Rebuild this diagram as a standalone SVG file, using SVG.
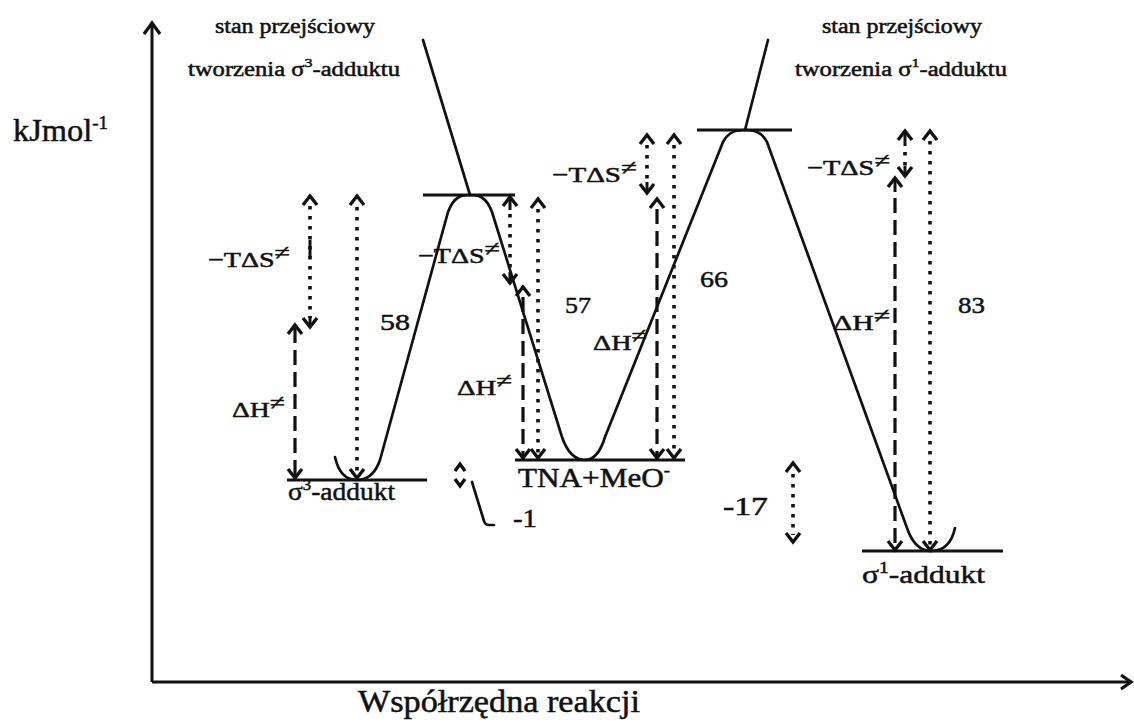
<svg xmlns="http://www.w3.org/2000/svg" xmlns:xlink="http://www.w3.org/1999/xlink" width="1134" height="723" viewBox="0 0 1134 723">
<style>
.ln{stroke:#111;stroke-width:2.7;fill:none;stroke-linecap:round;stroke-linejoin:round}
.ax{stroke:#111;stroke-width:3;fill:none}
.dot{stroke:#111;stroke-width:3.6;stroke-dasharray:3.5 6.5;fill:none}
.dash{stroke:#111;stroke-width:3.2;stroke-dasharray:15 7;fill:none}
.hd{stroke:#111;stroke-width:3.3;fill:none;stroke-linejoin:miter}
.st{stroke:#111;stroke-width:3;fill:none}
.t{font-family:"Liberation Serif","Times New Roman",serif;fill:#111;stroke:#111;stroke-width:0.5}
</style>
<defs>
<path id="up" d="M-7,9 L0,0 L7,9"/>
<path id="dn" d="M-7,-9 L0,0 L7,-9"/>
<path id="ups" d="M-5,7 L0,0 L5,7"/>
<path id="dns" d="M-5,-7 L0,0 L5,-7"/>
</defs>
<rect width="1134" height="723" fill="#fff"/>

<g id="axes">
<line class="ax" x1="152" y1="24" x2="152" y2="682"/>
<line class="ax" x1="152" y1="682" x2="1129" y2="682"/>
<path class="hd" d="M144,34 L152,23 L160,34"/>
<path class="hd" d="M1121,675 L1131,682 L1121,689"/>
<text class="t" x="13" y="141" font-size="31" textLength="95" lengthAdjust="spacingAndGlyphs">kJmol<tspan font-size="18" dy="-12">-1</tspan></text>
<text class="t" x="358" y="712" font-size="31" textLength="282" lengthAdjust="spacingAndGlyphs">Współrzędna reakcji</text>
</g>

<g id="profile">
<path class="ln" d="M335,457 Q340,480 357,480 Q373,480 380,460 L448,212 C454,196 462,195 470,195 C478,195 486,196 492,212 L562,437 Q570,460 585,460 Q598,460 605,437 L723,142 C729,131 737,130 745,130 C753,130 761,131 767,142 L907,528 Q915,551 931,551 Q950,551 955,528"/>
</g>

<g id="levels">
<line class="st" x1="287" y1="480" x2="427" y2="480"/>
<line class="st" x1="423" y1="195" x2="515" y2="195"/>
<line class="st" x1="515" y1="460" x2="685" y2="460"/>
<line class="st" x1="697" y1="130" x2="792" y2="130"/>
<line class="st" x1="862" y1="551" x2="1003" y2="551"/>
</g>

<g id="ts-pointers">
<line class="ln" x1="423" y1="40" x2="470" y2="195"/>
<line class="ln" x1="768" y1="40" x2="745" y2="130"/>
</g>

<g id="ts1-label">
<text class="t" x="215" y="33" font-size="20" textLength="160" lengthAdjust="spacingAndGlyphs">stan przejściowy</text>
<text class="t" x="188" y="76" font-size="20" textLength="212" lengthAdjust="spacingAndGlyphs">tworzenia σ<tspan font-size="13" dy="-9">3</tspan><tspan dy="9">-adduktu</tspan></text>
</g>
<g id="ts2-label">
<text class="t" x="822" y="33" font-size="20" textLength="160" lengthAdjust="spacingAndGlyphs">stan przejściowy</text>
<text class="t" x="795" y="76" font-size="20" textLength="212" lengthAdjust="spacingAndGlyphs">tworzenia σ<tspan font-size="13" dy="-9">1</tspan><tspan dy="9">-adduktu</tspan></text>
</g>

<g id="connectors">
<!-- sigma3 -> TS1 -->
<line class="dash" x1="295" y1="328" x2="295" y2="476"/>
<use href="#up" x="295" y="325" class="hd"/>
<use href="#dn" x="295" y="478" class="hd"/>
<line class="dot" x1="310" y1="206" x2="310" y2="318"/>
<line class="st" x1="310" y1="240" x2="310" y2="257"/>
<line class="st" x1="310" y1="316" x2="310" y2="327"/>
<use href="#up" x="310" y="196" class="hd"/>
<use href="#dn" x="310" y="327" class="hd"/>
<line class="dot" x1="357" y1="207" x2="357" y2="474"/>
<use href="#up" x="357" y="196" class="hd"/>
<use href="#dn" x="357" y="478" class="hd"/>
<!-- TNA -> TS1 -->
<line class="st" x1="510" y1="197" x2="510" y2="210"/>
<line class="dot" x1="510" y1="214" x2="510" y2="274"/>
<line class="st" x1="510" y1="272" x2="510" y2="283"/>
<use href="#up" x="510" y="197" class="hd"/>
<use href="#dn" x="510" y="283" class="hd"/>
<line class="dash" x1="523" y1="297" x2="523" y2="456"/>
<use href="#up" x="523" y="287" class="hd"/>
<use href="#dn" x="523" y="458" class="hd"/>
<line class="dot" x1="538" y1="209" x2="538" y2="455"/>
<use href="#up" x="538" y="199" class="hd"/>
<use href="#dn" x="538" y="458" class="hd"/>
<!-- TNA -> TS2 -->
<line class="dot" x1="647" y1="145" x2="647" y2="184"/>
<line class="st" x1="647" y1="182" x2="647" y2="193"/>
<use href="#up" x="647" y="135" class="hd"/>
<use href="#dn" x="647" y="193" class="hd"/>
<line class="dash" x1="657" y1="209" x2="657" y2="456"/>
<use href="#up" x="657" y="199" class="hd"/>
<use href="#dn" x="657" y="458" class="hd"/>
<line class="dot" x1="674" y1="145" x2="674" y2="455"/>
<use href="#up" x="674" y="135" class="hd"/>
<use href="#dn" x="674" y="458" class="hd"/>
<!-- sigma1 -> TS2 -->
<line class="st" x1="905" y1="131" x2="905" y2="146"/>
<line class="dot" x1="905" y1="152" x2="905" y2="168"/>
<line class="st" x1="905" y1="166" x2="905" y2="176"/>
<use href="#up" x="905" y="131" class="hd"/>
<use href="#dn" x="905" y="176" class="hd"/>
<line class="st" x1="895" y1="178" x2="895" y2="192"/>
<line class="dash" x1="895" y1="198" x2="895" y2="548"/>
<use href="#up" x="895" y="178" class="hd"/>
<use href="#dn" x="895" y="550" class="hd"/>
<line class="dot" x1="930" y1="141" x2="930" y2="547"/>
<use href="#up" x="930" y="131" class="hd"/>
<use href="#dn" x="930" y="550" class="hd"/>
<!-- -17 -->
<line class="dot" x1="793" y1="474" x2="793" y2="535"/>
<use href="#up" x="793" y="463" class="hd"/>
<use href="#dn" x="793" y="542" class="hd"/>
<!-- -1 -->
<use href="#ups" x="460" y="464" class="hd"/>
<use href="#dns" x="460" y="486" class="hd"/>
<path class="ln" d="M472,482 L484,521 Q485,525 489,525 L494,525"/>
</g>

<g id="labels">
<text class="t" x="208" y="267" font-size="22" textLength="82" lengthAdjust="spacingAndGlyphs">−TΔS<tspan dy="-7">≠</tspan></text>
<text class="t" x="418" y="263" font-size="22" textLength="82" lengthAdjust="spacingAndGlyphs">−TΔS<tspan dy="-7">≠</tspan></text>
<text class="t" x="552" y="182" font-size="22" textLength="85" lengthAdjust="spacingAndGlyphs">−TΔS<tspan dy="-7">≠</tspan></text>
<text class="t" x="807" y="175" font-size="22" textLength="83" lengthAdjust="spacingAndGlyphs">−TΔS<tspan dy="-7">≠</tspan></text>
<text class="t" x="232" y="417" font-size="22" textLength="53" lengthAdjust="spacingAndGlyphs">ΔH<tspan dy="-7">≠</tspan></text>
<text class="t" x="457" y="395" font-size="22" textLength="55" lengthAdjust="spacingAndGlyphs">ΔH<tspan dy="-7">≠</tspan></text>
<text class="t" x="593" y="350" font-size="22" textLength="54" lengthAdjust="spacingAndGlyphs">ΔH<tspan dy="-7">≠</tspan></text>
<text class="t" x="833" y="330" font-size="22" textLength="57" lengthAdjust="spacingAndGlyphs">ΔH<tspan dy="-7">≠</tspan></text>
<text class="t" x="380" y="330" font-size="24" textLength="30" lengthAdjust="spacingAndGlyphs">58</text>
<text class="t" x="565" y="313" font-size="24" textLength="26" lengthAdjust="spacingAndGlyphs">57</text>
<text class="t" x="700" y="287" font-size="24" textLength="28" lengthAdjust="spacingAndGlyphs">66</text>
<text class="t" x="958" y="313" font-size="24" textLength="27" lengthAdjust="spacingAndGlyphs">83</text>
<text class="t" x="723" y="515" font-size="25" textLength="45" lengthAdjust="spacingAndGlyphs">-17</text>
<text class="t" x="513" y="527" font-size="25" textLength="24" lengthAdjust="spacingAndGlyphs">-1</text>
</g>

<g id="sigma3-adduct">
<text class="t" x="288" y="500" font-size="26" textLength="107" lengthAdjust="spacingAndGlyphs">σ<tspan font-size="16" dy="-10">3</tspan><tspan dy="10">-addukt</tspan></text>
</g>
<g id="tna-meo">
<text class="t" x="518" y="487" font-size="27" textLength="152" lengthAdjust="spacingAndGlyphs">TNA+MeO<tspan font-size="16" dy="-11">-</tspan></text>
</g>
<g id="sigma1-adduct">
<text class="t" x="862" y="583" font-size="26" textLength="123" lengthAdjust="spacingAndGlyphs">σ<tspan font-size="16" dy="-10">1</tspan><tspan dy="10">-addukt</tspan></text>
</g>
</svg>
